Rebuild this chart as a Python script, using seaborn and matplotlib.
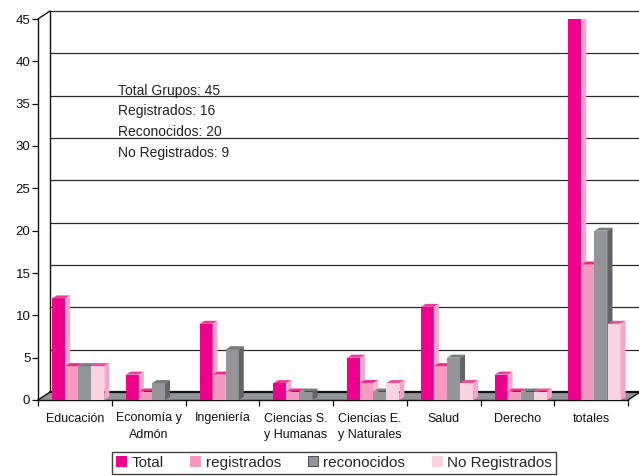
import numpy as np
import pandas as pd
import matplotlib
matplotlib.use('Agg')
import matplotlib.pyplot as plt
from matplotlib.patches import Polygon
from matplotlib.lines import Line2D
import seaborn as sns

areas = ['Educación', 'Economía y\nAdmón', 'Ingeniería', 'Ciencias S.\ny Humanas',
         'Ciencias E.\ny Naturales', 'Salud', 'Derecho', 'totales']
series = ['Total', 'registrados', 'reconocidos', 'No Registrados']
total = [12, 3, 9, 2, 5, 11, 3, 45]
registrados = [4, 1, 3, 1, 2, 4, 1, 16]
reconocidos = [4, 2, 6, 1, 1, 5, 1, 20]
no_registrados = [4, 0, 0, 0, 2, 2, 1, 9]
resumen = ['Total Grupos: 45', 'Registrados: 16', 'Reconocidos: 20', 'No Registrados: 9']

# colores: cara frontal, cara superior, cara lateral
front = ['#EC008C', '#F49AC1', '#939598', '#FAD3E3']
top = ['#EF3D97', '#EC2A8C', '#7A7B7E', '#EE4D9B']
side = ['#F5A8CA', '#F7B7D3', '#636467', '#F4A6C9']

df = pd.DataFrame({'area': areas * 4,
                   'serie': [s for s in series for _ in areas],
                   'valor': total + registrados + reconocidos + no_registrados})

sns.set_theme(style='white')
plt.rcParams['font.family'] = ['Liberation Sans', 'DejaVu Sans']

fig = plt.figure(figsize=(6.39, 4.76), dpi=100)
ax = fig.add_axes([38/639, 76/476, 590/639, 381/476])

sns.barplot(data=df, x='area', y='valor', hue='serie', order=areas, hue_order=series,
            palette=front, width=0.71, saturation=1, legend=False, ax=ax,
            linewidth=0, edgecolor='none')
ax.set_xlim(-0.5, 7.5)
ax.set_ylim(0, 45)
ax.set_xlabel('')
ax.set_ylabel('')

# pixel -> data units
p0 = ax.transData.transform((0, 0))
px_x = ax.transData.transform((1, 0))[0] - p0[0]
px_y = ax.transData.transform((0, 1))[1] - p0[1]
ddx, ddy = 5 / px_x, 3 / px_y      # profundidad de barra
wdx, wdy = 12 / px_x, 8 / px_y     # profundidad de la pared

# pared de fondo, piso y lineas de cuadricula
x0, x1 = -0.5, 7.5
floor = Polygon([(x0, 0), (x1, 0), (x1 + wdx, wdy), (x0 + wdx, wdy)], closed=True,
                facecolor='#939598', edgecolor='none', zorder=1, clip_on=False)
ax.add_patch(floor)
for v in range(5, 46, 5):
    ax.plot([x0 + wdx, x1 + wdx], [v + wdy, v + wdy], color='#2a2a2a', lw=0.9,
            zorder=0.5, clip_on=False)
ax.plot([x0 + wdx, x1 + wdx], [wdy, wdy], color='#111111', lw=1.6, zorder=1.5, clip_on=False)
ax.plot([x0 + wdx, x0 + wdx], [wdy, 45 + wdy], color='#111111', lw=1, zorder=1.5, clip_on=False)
ax.plot([x0, x0 + wdx], [45, 45 + wdy], color='#111111', lw=1, zorder=1.5, clip_on=False)
ax.plot([x0, x0 + wdx], [0, wdy], color='#111111', lw=1, zorder=1.5, clip_on=False)
ax.plot([x1, x1 + wdx], [0, wdy], color='#111111', lw=1, zorder=1.5, clip_on=False)

# barras con efecto 3D
for h, cont in enumerate(ax.containers):
    for c, bar in enumerate(cont):
        bar.set_x(bar.get_x() + 0.045)
        hgt = bar.get_height()
        z = 3 + (c * 4 + h) * 0.01
        if hgt <= 0:
            bar.set_visible(False)
            continue
        bar.set_zorder(z)
        bx0 = bar.get_x()
        bx1 = bx0 + bar.get_width()
        ax.add_patch(Polygon([(bx0, hgt), (bx1, hgt), (bx1 + ddx, hgt + ddy), (bx0 + ddx, hgt + ddy)],
                             closed=True, facecolor=top[h], edgecolor='none', zorder=z + 0.001))
        ax.add_patch(Polygon([(bx1, 0), (bx1, hgt), (bx1 + ddx, hgt + ddy), (bx1 + ddx, ddy)],
                             closed=True, facecolor=side[h], edgecolor='none', zorder=z + 0.001))

for s in ['top', 'right']:
    ax.spines[s].set_visible(False)
for s in ['left', 'bottom']:
    ax.spines[s].set_color('#111111')
    ax.spines[s].set_linewidth(1)
    ax.spines[s].set_zorder(2)

ax.set_yticks(range(0, 46, 5))
ax.tick_params(axis='y', length=4, width=0.9, color='#111111', pad=1.5, labelsize=9.5,
               labelcolor='#111111', left=True, direction='out')
ax.set_xticks(range(len(areas)))
ax.set_xticklabels(areas, fontsize=9, linespacing=1.45, color='#111111')
ax.set_xticks(np.arange(-0.5, 8, 1), minor=True)
ax.tick_params(axis='x', which='major', length=0, pad=9)
ax.tick_params(axis='x', which='minor', length=4, width=0.9, color='#111111',
               bottom=True, direction='out')

for i, line in enumerate(resumen):
    ax.text(0.1356, (400 - 95 - i * 20.5) / 381, line, transform=ax.transAxes,
            fontsize=10, va='baseline', ha='left', color='#222222')

edges = ['#EC008C', '#F49AC1', '#555555', '#FAD3E3']
handles = [Line2D([], [], marker='s', ls='', markersize=7.5, markerfacecolor=front[i],
                  markeredgecolor=edges[i], markeredgewidth=0.8) for i in range(4)]
leg = fig.legend(handles, series, loc='upper center', bbox_to_anchor=(334/639, 1 - 452/476),
                 ncol=4, frameon=True, fancybox=False, edgecolor='#111111', fontsize=11,
                 handlelength=0.7, handletextpad=0.35, columnspacing=1.7, borderpad=0.25,
                 borderaxespad=0)
leg.get_frame().set_linewidth(1)

fig.savefig('out.png', dpi=100)
